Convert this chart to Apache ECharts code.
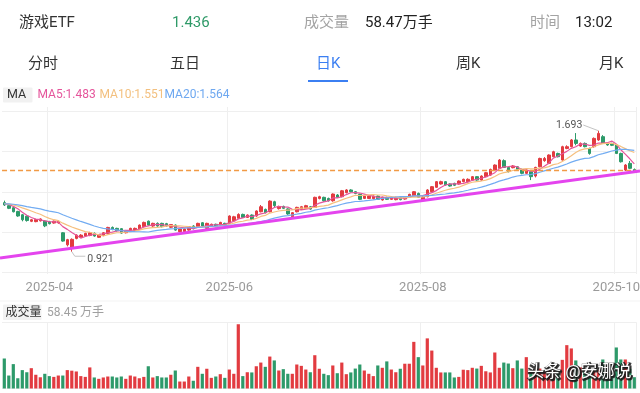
<!DOCTYPE html>
<html><head><meta charset="utf-8">
<script src="https://cdn.jsdelivr.net/npm/echarts/dist/echarts.min.js"></script>
<style>html,body{margin:0;padding:0;background:#fff}#c{width:640px;height:393px}</style>
</head><body><div id="c"></div>
<script>
// ---------------- data ----------------
const dates = [
 '2025-03-18','2025-03-19','2025-03-20','2025-03-21','2025-03-24','2025-03-25','2025-03-26','2025-03-27','2025-03-28','2025-03-31',
 '2025-04-01','2025-04-02','2025-04-03','2025-04-07','2025-04-08','2025-04-09','2025-04-10','2025-04-11','2025-04-14','2025-04-15','2025-04-16','2025-04-17','2025-04-18','2025-04-21','2025-04-22','2025-04-23','2025-04-24','2025-04-25','2025-04-28','2025-04-29','2025-04-30',
 '2025-05-06','2025-05-07','2025-05-08','2025-05-09','2025-05-12','2025-05-13','2025-05-14','2025-05-15','2025-05-16','2025-05-19','2025-05-20','2025-05-21','2025-05-22','2025-05-23','2025-05-26','2025-05-27','2025-05-28','2025-05-29','2025-05-30',
 '2025-06-03','2025-06-04','2025-06-05','2025-06-06','2025-06-09','2025-06-10','2025-06-11','2025-06-12','2025-06-13','2025-06-16','2025-06-17','2025-06-18','2025-06-19','2025-06-20','2025-06-23','2025-06-24','2025-06-25','2025-06-26','2025-06-27','2025-06-30',
 '2025-07-01','2025-07-02','2025-07-03','2025-07-04','2025-07-07','2025-07-08','2025-07-09','2025-07-10','2025-07-11','2025-07-14','2025-07-15','2025-07-16','2025-07-17','2025-07-18','2025-07-21','2025-07-22','2025-07-23','2025-07-24','2025-07-25','2025-07-28','2025-07-29','2025-07-30','2025-07-31',
 '2025-08-01','2025-08-04','2025-08-05','2025-08-06','2025-08-07','2025-08-08','2025-08-11','2025-08-12','2025-08-13','2025-08-14','2025-08-15','2025-08-18','2025-08-19','2025-08-20','2025-08-21','2025-08-22','2025-08-25','2025-08-26','2025-08-27','2025-08-28','2025-08-29',
 '2025-09-01','2025-09-02','2025-09-03','2025-09-04','2025-09-05','2025-09-08','2025-09-09','2025-09-10','2025-09-11','2025-09-12','2025-09-15','2025-09-16','2025-09-17','2025-09-18','2025-09-19','2025-09-22','2025-09-23','2025-09-24','2025-09-25','2025-09-26','2025-09-29','2025-09-30',
 '2025-10-09','2025-10-10','2025-10-13','2025-10-14','2025-10-15'
];
const xTickLabels = ['2025-04','2025-06','2025-08','2025-10'];

const opens = [1.234,1.215,1.202,1.178,1.157,1.148,1.115,1.113,1.118,1.117,
 1.112,1.104,1.105,1.042,0.965,0.945,1.006,1.013,1.021,1.025,
 1.038,1.013,1.025,1.038,1.076,1.070,1.068,1.042,1.055,1.057,
 1.064,1.081,1.116,1.085,1.102,1.102,1.100,1.077,1.091,1.049,
 1.049,1.059,1.085,1.081,1.106,1.070,1.085,1.096,1.091,1.102,
 1.102,1.119,1.134,1.159,1.140,1.155,1.149,1.176,1.191,1.176,
 1.240,1.196,1.210,1.194,1.144,1.176,1.191,1.198,1.208,1.204,
 1.261,1.268,1.261,1.246,1.283,1.272,1.298,1.315,1.304,1.287,
 1.261,1.261,1.259,1.276,1.251,1.268,1.255,1.253,1.268,1.257,
 1.268,1.278,1.293,1.251,1.272,1.304,1.332,1.353,1.368,1.353,
 1.357,1.353,1.368,1.368,1.378,1.400,1.378,1.400,1.410,1.442,
 1.453,1.502,1.459,1.457,1.463,1.446,1.421,1.432,1.404,1.463,
 1.502,1.485,1.527,1.548,1.506,1.580,1.591,1.634,1.595,1.612,
 1.580,1.591,1.634,1.655,1.612,1.612,1.602,1.548,1.442,1.485,
 1.445];
const closes = [1.219,1.198,1.176,1.149,1.125,1.120,1.125,1.126,1.130,1.086,
 1.100,1.116,1.115,0.989,0.998,1.000,1.027,1.027,1.038,1.042,
 1.021,1.030,1.042,1.076,1.063,1.055,1.040,1.055,1.070,1.070,
 1.091,1.108,1.091,1.102,1.085,1.081,1.085,1.094,1.059,1.066,
 1.066,1.081,1.068,1.102,1.085,1.102,1.096,1.081,1.108,1.091,
 1.149,1.144,1.159,1.140,1.155,1.127,1.181,1.208,1.170,1.244,
 1.215,1.210,1.198,1.162,1.170,1.204,1.208,1.215,1.193,1.268,
 1.272,1.246,1.246,1.289,1.268,1.310,1.315,1.304,1.293,1.255,
 1.276,1.276,1.276,1.255,1.268,1.255,1.268,1.268,1.253,1.270,
 1.287,1.304,1.268,1.268,1.315,1.336,1.368,1.368,1.347,1.340,
 1.345,1.372,1.383,1.383,1.400,1.378,1.404,1.425,1.446,1.474,
 1.506,1.459,1.432,1.468,1.446,1.421,1.442,1.400,1.459,1.516,
 1.516,1.538,1.559,1.527,1.591,1.591,1.634,1.612,1.612,1.591,
 1.548,1.644,1.676,1.612,1.602,1.600,1.548,1.495,1.474,1.453,
 1.436];
const highs = [1.247,1.222,1.206,1.182,1.162,1.152,1.130,1.131,1.134,1.122,
 1.118,1.120,1.120,1.046,1.003,1.006,1.032,1.033,1.042,1.048,
 1.044,1.034,1.046,1.080,1.082,1.074,1.072,1.060,1.074,1.075,
 1.095,1.113,1.120,1.106,1.108,1.106,1.105,1.098,1.095,1.070,
 1.070,1.085,1.090,1.106,1.110,1.106,1.100,1.100,1.112,1.106,
 1.153,1.150,1.166,1.164,1.159,1.159,1.185,1.219,1.196,1.249,
 1.246,1.215,1.215,1.198,1.174,1.208,1.213,1.220,1.213,1.272,
 1.278,1.272,1.266,1.293,1.289,1.315,1.320,1.320,1.308,1.291,
 1.281,1.280,1.280,1.280,1.272,1.272,1.272,1.272,1.272,1.274,
 1.291,1.308,1.298,1.276,1.320,1.340,1.372,1.374,1.372,1.357,
 1.361,1.376,1.387,1.389,1.404,1.404,1.408,1.430,1.451,1.478,
 1.512,1.510,1.463,1.474,1.468,1.451,1.446,1.436,1.463,1.521,
 1.525,1.542,1.565,1.553,1.597,1.600,1.640,1.678,1.618,1.618,
 1.585,1.650,1.693,1.665,1.618,1.616,1.606,1.553,1.480,1.500,
 1.452];
const lows = [1.213,1.193,1.172,1.144,1.115,1.113,1.110,1.109,1.114,1.078,
 1.095,1.100,1.100,0.985,0.955,0.921,1.000,1.008,1.016,1.020,
 1.017,1.010,1.020,1.034,1.058,1.050,1.035,1.038,1.050,1.052,
 1.060,1.077,1.086,1.080,1.080,1.076,1.080,1.072,1.055,1.045,
 1.046,1.055,1.064,1.077,1.081,1.066,1.081,1.077,1.087,1.087,
 1.098,1.115,1.129,1.136,1.136,1.123,1.144,1.172,1.166,1.172,
 1.200,1.190,1.194,1.157,1.138,1.172,1.187,1.194,1.189,1.200,
 1.255,1.240,1.241,1.240,1.264,1.268,1.293,1.300,1.288,1.250,
 1.257,1.257,1.255,1.251,1.247,1.251,1.251,1.249,1.249,1.253,
 1.264,1.274,1.264,1.251,1.268,1.300,1.328,1.349,1.343,1.336,
 1.340,1.349,1.364,1.364,1.374,1.374,1.374,1.396,1.406,1.438,
 1.449,1.455,1.427,1.453,1.442,1.415,1.417,1.378,1.395,1.459,
 1.495,1.480,1.523,1.523,1.502,1.575,1.587,1.600,1.590,1.587,
 1.540,1.585,1.628,1.608,1.597,1.595,1.544,1.490,1.436,1.448,
 1.425];
// volume, 万手
const volumes = [155,67,126,53,95,84,105,71,58,76,
 64,60,67,67,95,92,88,64,60,109,
 57,50,57,62,62,57,62,50,67,62,
 53,60,115,57,64,57,57,71,93,36,
 36,62,40,112,76,102,55,62,74,55,
 98,76,332,64,84,83,115,134,112,165,
 145,93,100,76,76,124,117,98,84,172,
 102,76,69,119,79,134,74,83,103,124,
 93,76,64,119,107,140,98,84,102,128,
 128,241,162,119,259,196,107,83,83,83,
 57,60,97,95,107,103,117,89,83,186,
 107,134,129,105,145,103,162,86,95,103,
 86,95,92,86,148,224,207,145,109,95,
 81,92,95,150,74,81,212,150,150,102,
 58.45];
// closes before the visible window (estimated from where the MA lines start)
const priorCloses = [1.205,1.218,1.232,1.226,1.240,1.228,1.215,1.222,1.236,1.230,1.219,1.225,1.238,1.231,1.220,1.228,1.235,1.226,1.232];
const lastPrice = 1.436;
const trendValues = [0.885, 1.431]; // support line value at first and last candle
const maLegend = ['MA5:1.483','MA10:1.551','MA20:1.564'];
const headerTexts = ['游戏ETF','1.436','成交量','58.47万手','时间','13:02'];
const tabTexts = ['分时','五日','日K','周K','月K'];
const volumeTexts = ['成交量','58.45 万手'];
const watermark = '头条 @安娜说';

// ---------------- chart ----------------
const FF = 'Roboto, "Noto Sans CJK SC", sans-serif';
const UP = '#e23b40', DOWN = '#2d9a6a';
const chart = echarts.init(document.getElementById('c'), null, {renderer:'canvas'});

function movingAverage(n){
  const all = priorCloses.concat(closes), off = priorCloses.length;
  return closes.map((c,i)=>{ let s=0; for(let k=i+off-n+1;k<=i+off;k++) s+=all[k]; return +(s/n).toFixed(4); });
}
function isTick(idx){
  const m = dates[idx].slice(0,7);
  return xTickLabels.indexOf(m) >= 0 && (idx === 0 || dates[idx-1].slice(0,7) !== m);
}
const candleData = dates.map((d,i)=>[opens[i], closes[i], lows[i], highs[i]]);
const volData = volumes.map((v,i)=>({value:v, itemStyle:{color: closes[i] >= opens[i] ? UP : DOWN}}));
const gridLine = {show:true, lineStyle:{color:'#efefef', width:1}};

const option = {
  animation:false,
  backgroundColor:'#fff',
  textStyle:{fontFamily:FF},
  grid:[
    {left:2.05, right:3.45, top:107, height:167, outerBoundsMode:'none', containLabel:false},
    {left:2.05, right:3.45, top:322.5, height:66, outerBoundsMode:'none', containLabel:false},
    {left:2.05, right:3.45, top:111.5, height:160.5, outerBoundsMode:'none', containLabel:false}
  ],
  xAxis:[
    {type:'category', gridIndex:0, data:dates, boundaryGap:true,
     axisLine:{show:false}, axisTick:{show:false},
     axisLabel:{interval:(i)=>isTick(i), formatter:(v)=>v.slice(0,7), color:'#9a9a9a', fontSize:13, margin:7, fontFamily:FF},
     splitLine:{show:true, interval:(i)=>isTick(i), lineStyle:{color:'#efefef'}}},
    {type:'category', gridIndex:1, data:dates, boundaryGap:true,
     axisLine:{show:false}, axisTick:{show:false}, axisLabel:{show:false},
     splitLine:{show:true, interval:(i)=>isTick(i), lineStyle:{color:'#efefef'}}},
    {type:'value', gridIndex:2, show:false, min:0, max:1}
  ],
  yAxis:[
    {type:'value', gridIndex:0, show:false, min:0.7789, max:1.8443, scale:true},
    {type:'value', gridIndex:1, min:0, max:341, interval:341,
     axisLine:{show:false}, axisTick:{show:false}, axisLabel:{show:false}, splitLine:gridLine},
    {type:'value', gridIndex:2, min:0, max:4, interval:1,
     axisLine:{show:false}, axisTick:{show:false}, axisLabel:{show:false}, splitLine:gridLine}
  ],
  series:[
    {type:'candlestick', xAxisIndex:0, yAxisIndex:0, data:candleData, barWidth:3,
     itemStyle:{color:UP, color0:DOWN, borderColor:UP, borderColor0:DOWN, borderWidth:1},
     markLine:{silent:true, symbol:['none','none'], label:{show:false},
       lineStyle:{color:'#f19a45', type:[5,3], width:1.3},
       data:[{yAxis:lastPrice}]}},
    {type:'line', name:'MA5', xAxisIndex:0, yAxisIndex:0, data:movingAverage(5), symbol:'none', lineStyle:{color:'#e5559b', width:1.2}, z:3},
    {type:'line', name:'MA10', xAxisIndex:0, yAxisIndex:0, data:movingAverage(10), symbol:'none', lineStyle:{color:'#f6c07f', width:1.2}, z:3},
    {type:'line', name:'MA20', xAxisIndex:0, yAxisIndex:0, data:movingAverage(20), symbol:'none', lineStyle:{color:'#72acf2', width:1.2}, z:3},
    {type:'bar', xAxisIndex:1, yAxisIndex:1, data:volData, barWidth:3.2}
  ]
};
chart.setOption(option);

// ----- graphics (text, support line, high/low markers) -----
function txt(id, text, x, y, size, color, align, extra, z){
  const style = Object.assign({text:text, font:size+'px '+FF, fill:color,
    textAlign:align||'left', align:align||'left', textVerticalAlign:'middle', verticalAlign:'middle'}, extra||{});
  return {type:'text', id:id, x:x, y:y, silent:true, z:z||100, style:style};
}
const toPx = (i,v)=>chart.convertToPixel({xAxisIndex:0, yAxisIndex:0}, [i, v]);
const W = chart.getWidth();
const a = toPx(0, trendValues[0]), b = toPx(closes.length-1, trendValues[1]);
const k = (b[1]-a[1])/(b[0]-a[0]);
const tY0 = a[1] + k*(0 - a[0]), tY1 = a[1] + k*(W - a[0]);

let iHi = 0, iLo = 0;
highs.forEach((h,i)=>{ if(h > highs[iHi]) iHi = i; });
lows.forEach((l,i)=>{ if(l < lows[iLo]) iLo = i; });
const pH = toPx(iHi, highs[iHi]), pL = toPx(iLo, lows[iLo]);

const HY = 23, TY = 64;
const WMF = '17px ' + FF;
const g = [
  txt('h0', headerTexts[0], 19, HY, 15, '#333'),
  txt('h1', headerTexts[1], 172, HY, 15, '#2f9a68'),
  txt('h2', headerTexts[2], 304, HY, 15, '#a3a3a3'),
  txt('h3', headerTexts[3], 365, HY, 15, '#222'),
  txt('h4', headerTexts[4], 530, HY, 15, '#a3a3a3'),
  txt('h5', headerTexts[5], 575, HY, 15, '#222'),
  txt('t0', tabTexts[0], 28, TY, 15, '#333'),
  txt('t1', tabTexts[1], 170, TY, 15, '#333'),
  txt('t2', tabTexts[2], 316, TY, 15, '#3b7ff2'),
  txt('t3', tabTexts[3], 456, TY, 15, '#333'),
  txt('t4', tabTexts[4], 599, TY, 15, '#333'),
  {type:'rect', id:'ul', silent:true, z:100, shape:{x:308, y:80, width:40, height:2}, style:{fill:'#3b7ff2'}},
  {type:'rect', id:'mabox', silent:true, z:99, shape:{x:3, y:87.5, width:29.5, height:15, r:1}, style:{fill:'#f1f1f1'}},
  txt('ma', 'MA', 7, 95, 12.5, '#333'),
  txt('ma5', maLegend[0], 37.5, 95, 12, '#e5559b'),
  txt('ma10', maLegend[1], 99.5, 95, 12, '#f3c07f'),
  txt('ma20', maLegend[2], 164.5, 95, 12, '#6ea8f0'),
  {type:'rect', id:'sep', silent:true, z:1, shape:{x:0, y:300.5, width:W, height:1}, style:{fill:'#f3f3f3'}},
  {type:'rect', id:'vbox', silent:true, z:99, shape:{x:3, y:304.5, width:38.5, height:15.5, r:1}, style:{fill:'#f1f1f1'}},
  txt('v0', volumeTexts[0], 5.5, 312.5, 12, '#333'),
  txt('v1', volumeTexts[1], 47, 312.5, 12, '#a0a0a0'),
  {type:'line', id:'trend', silent:true, z:90, shape:{x1:0, y1:tY0, x2:W, y2:tY1}, style:{stroke:'#e444ee', lineWidth:3}},
  {type:'polyline', id:'hiL', silent:true, z:95, shape:{points:[[pH[0],pH[1]],[pH[0]-15,pH[1]-5.7]]}, style:{stroke:'#c4c4c4', lineWidth:1, fill:null}},
  txt('hiT', highs[iHi].toFixed(3), pH[0]-16, pH[1]-5.7, 10.5, '#555', 'right'),
  {type:'polyline', id:'loL', silent:true, z:95, shape:{points:[[pL[0],pL[1]],[pL[0]+3,pL[1]+4.5],[pL[0]+13.5,pL[1]+4.5]]}, style:{stroke:'#c4c4c4', lineWidth:1, fill:null}},
  txt('loT', lows[iLo].toFixed(3), pL[0]+15.5, pL[1]+7.5, 10.5, '#555', 'left'),
  // watermark: dark outline copy underneath, white copy on top
  {type:'text', id:'wmS', x:528, y:374, silent:true, z:110,
   style:{text:watermark, font:WMF, fill:'#1a1a1a', stroke:'#1a1a1a', lineWidth:2.5, lineJoin:'round',
          textAlign:'left', align:'left', textVerticalAlign:'middle', verticalAlign:'middle', opacity:0.85}},
  {type:'text', id:'wmT', x:527, y:373, silent:true, z:111,
   style:{text:watermark, font:WMF, fill:'#ffffff',
          textAlign:'left', align:'left', textVerticalAlign:'middle', verticalAlign:'middle'}}
];
chart.setOption({graphic:{elements:g}});
</script>
</body></html>
